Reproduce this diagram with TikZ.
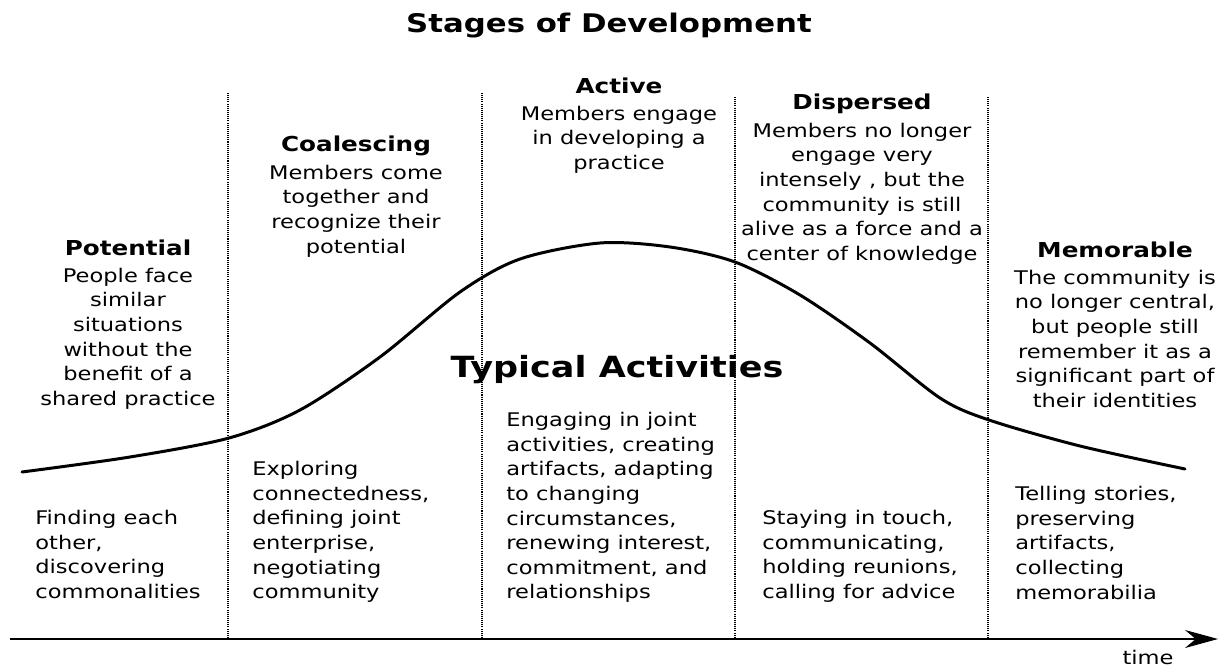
\documentclass[tikz,border=0pt]{standalone}
\usepackage{fontspec}
\setmainfont{DejaVu Sans}[FakeStretch=1.2]
\usetikzlibrary{positioning,arrows.meta}

\begin{document}
\begin{tikzpicture}[x=0.02cm, y=-0.02cm,
     bigtitle/.style = {font=\fontsize{14.6}{18}\selectfont\bfseries, inner sep=0pt, anchor=base},
     stage/.style = {font=\fontsize{11.7}{14}\selectfont\bfseries, inner sep=0pt, anchor=base, text depth=3pt},
     about/.style = {font=\fontsize{10.7}{14}\selectfont, inner sep=0pt, align=center},
     activity/.style = {font=\fontsize{10.7}{14}\selectfont, inner sep=0pt, align=left, anchor=north west},
     divider/.style = {draw, line width=0.6pt, dash pattern=on 0.6pt off 0.6pt},
     lifecurve/.style = {draw, line width=1.7pt, line join=round, line cap=round},
     timeaxis/.style = {draw, line width=0.7pt, -{Stealth[length=0.66cm, width=0.36cm]}}
    ]
    \useasboundingbox (0,0) rectangle (1220,669);

    \node [bigtitle] (title) at (609,33) {Stages of Development};

    \node [stage] (pot) at (128,255) {Potential};
    \node [about, below=4pt of pot] (potx) {People face\\similar\\situations\\without the\\benefit of a\\shared practice};
    \node [stage] (coal) at (356,152) {Coalescing};
    \node [about, below=4pt of coal] (coalx) {Members come\\together and\\recognize their\\potential};
    \node [stage] (act) at (619,93) {Active};
    \node [about, below=4pt of act] (actx) {Members engage\\in developing a\\practice};
    \node [stage] (disp) at (862,110) {Dispersed};
    \node [about, below=4pt of disp] (dispx) {Members no longer\\engage very\\intensely , but the\\community is still\\alive as a force and a\\center of knowledge};
    \node [stage] (mem) at (1115,257) {Memorable};
    \node [about, below=4pt of mem] (memx) {The community is\\no longer central,\\but people still\\remember it as a\\significant part of\\their identities};

    \node [bigtitle, font=\fontsize{16.6}{18}\selectfont\bfseries] (typ) at (617,377) {Typical Activities};

    \node [activity] (find) at (35,510) {Finding each\\other,\\discovering\\commonalities};
    \node [activity] (expl) at (252,461) {Exploring\\connectedness,\\defining joint\\enterprise,\\negotiating\\community};
    \node [activity] (eng) at (506,412) {Engaging in joint\\activities, creating\\artifacts, adapting\\to changing\\circumstances,\\renewing interest,\\commitment, and\\relationships};
    \node [activity] (stay) at (762,510) {Staying in touch,\\communicating,\\holding reunions,\\calling for advice};
    \node [activity] (tell) at (1015,486) {Telling stories,\\preserving\\artifacts,\\collecting\\memorabilia};

    \foreach \x/\ya [count=\i] in {228/93,482/93,735/97,988/97} {
      \coordinate (top\i) at (\x,\ya);
      \coordinate (bot\i) at (\x,637);
      \draw [divider] (top\i) -- (bot\i);
    }

    \draw [lifecurve] plot [smooth] coordinates {(22,472) (130,457) (229,438) (300,410) (380,357) (460,292) (520,259) (600,243) (670,247) (735,262) (800,295) (870,343) (940,398) (989,420) (1080,446) (1185,469)};

    \coordinate (t0) at (10,639);
    \coordinate (t1) at (1218,639);
    \draw [timeaxis] (t0) -- (t1);
    \node [about, anchor=base] (time) at (1148,664) {time};

\end{tikzpicture}
\end{document}
